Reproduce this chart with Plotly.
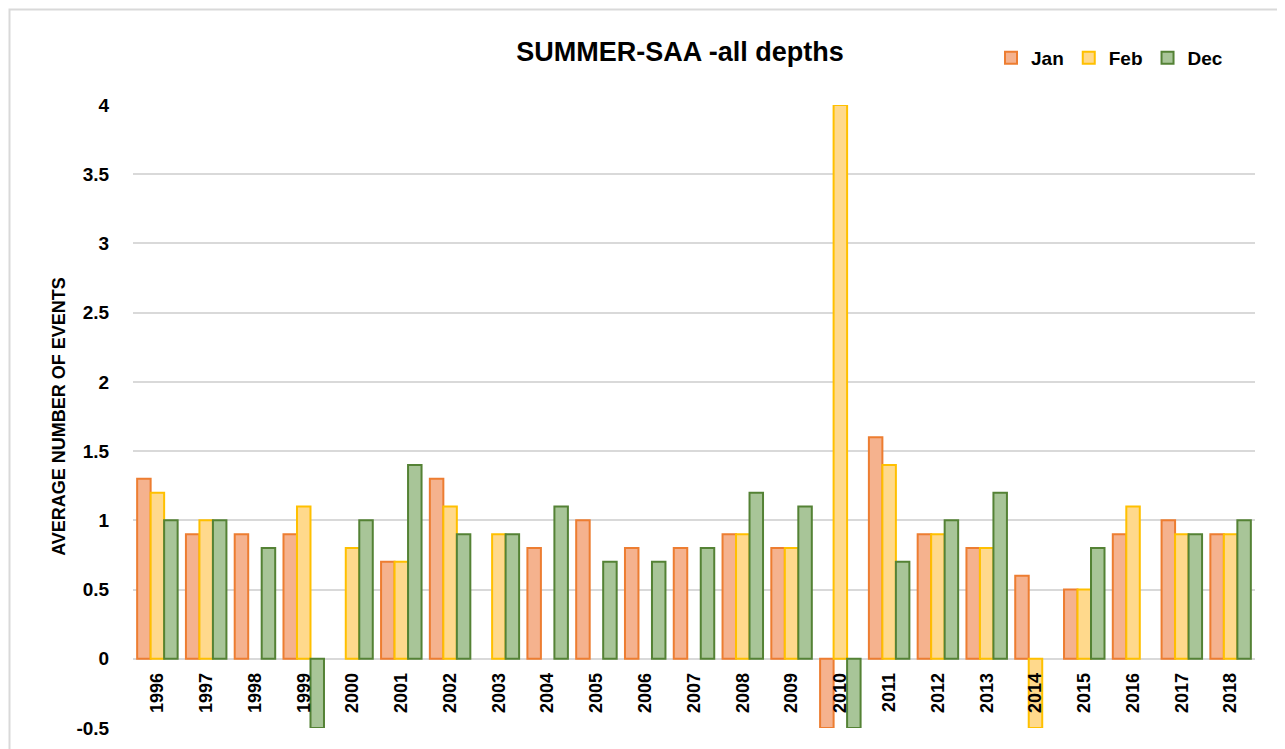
import plotly.graph_objects as go

years = [str(y) for y in range(1996, 2019)]
jan = [1.3, 0.9, 0.9, 0.9, None, 0.7, 1.3, None, 0.8, 1.0, 0.8, 0.8, 0.9, 0.8, -0.5,
       1.6, 0.9, 0.8, 0.6, 0.5, 0.9, 1.0, 0.9]
feb = [1.2, 1.0, None, 1.1, 0.8, 0.7, 1.1, 0.9, None, None, None, None, 0.9, 0.8, 4.0,
       1.4, 0.9, 0.8, -0.5, 0.5, 1.1, 0.9, 0.9]
dec = [1.0, 1.0, 0.8, -0.5, 1.0, 1.4, 0.9, 0.9, 1.1, 0.7, 0.7, 0.8, 1.2, 1.1, -0.5,
       0.7, 1.0, 1.2, None, 0.8, None, 0.9, 1.0]
y_ticks = [-0.5, 0, 0.5, 1, 1.5, 2, 2.5, 3, 3.5, 4]

series = [
    ("Jan", jan, "#F5B28E", "#ED7D31"),
    ("Feb", feb, "#FFD98C", "#FFC000"),
    ("Dec", dec, "#A8C598", "#548235"),
]

fig = go.Figure()
for name, vals, fill, line in series:
    fig.add_trace(go.Bar(
        x=years, y=vals, name=name,
        marker=dict(color=fill, line=dict(color=line, width=2)),
    ))

# the page body adds an 8px offset; the figure is sized to fit the window after it
OFF = 8
W, H = 1285 - OFF, 749 - OFF
L, R, T, B = 133 - OFF, W - (1255 - OFF), 105 - OFF, H - (728 - OFF)
PW, PH = W - L - R, H - T - B

def px(xs):
    return (xs - OFF - L) / PW

def py(ys):
    return (H - B - (ys - OFF)) / PH

FONT = "Liberation Sans, Arial, sans-serif"
fig.update_layout(
    width=W, height=H,
    margin=dict(l=L, r=R, t=T, b=B, autoexpand=False),
    paper_bgcolor="white", plot_bgcolor="white",
    barmode="group", bargap=0.17, bargroupgap=0,
    title=dict(text="<b>SUMMER-SAA -all depths</b>", x=px(680), xanchor="center",
               xref="paper", y=(H - (52 - OFF)) / H, yanchor="middle",
               font=dict(family=FONT, size=27, color="#000000")),
    legend=dict(orientation="h", x=px(991), xanchor="left",
                y=py(58), yanchor="middle",
                font=dict(family=FONT, size=19, color="#000000", weight="bold"),
                itemwidth=30, bgcolor="rgba(0,0,0,0)", tracegroupgap=0),
    font=dict(family=FONT, color="#000000"),
    xaxis=dict(
        type="category", anchor="free", position=0.5 / 4.5, automargin=False,
        showline=False, showgrid=False, tickangle=-90,
        ticks="outside", ticklen=6, tickcolor="rgba(0,0,0,0)",
        tickfont=dict(family=FONT, size=18, color="#000000", weight="bold"),
    ),
    yaxis=dict(
        range=[-0.5, 4], tickvals=y_ticks, automargin=False,
        ticktext=[("%g" % v) for v in y_ticks],
        showgrid=True, gridcolor="#D9D9D9", gridwidth=1.5,
        zeroline=True, zerolinecolor="#D9D9D9", zerolinewidth=1.5,
        showline=False,
        ticks="outside", ticklen=19, tickcolor="rgba(0,0,0,0)",
        tickfont=dict(family=FONT, size=19, color="#000000", weight="bold"),
        title=dict(text="<b>AVERAGE NUMBER OF EVENTS</b>", standoff=6,
                   font=dict(family=FONT, size=18, color="#000000")),
    ),
    shapes=[dict(type="rect", xref="paper", yref="paper",
                 x0=px(9.5), x1=px(1282),
                 y0=py(770), y1=py(9.5),
                 line=dict(color="#D9D9D9", width=2), fillcolor="rgba(0,0,0,0)",
                 layer="below")],
)

fig.write_html("out.html")
